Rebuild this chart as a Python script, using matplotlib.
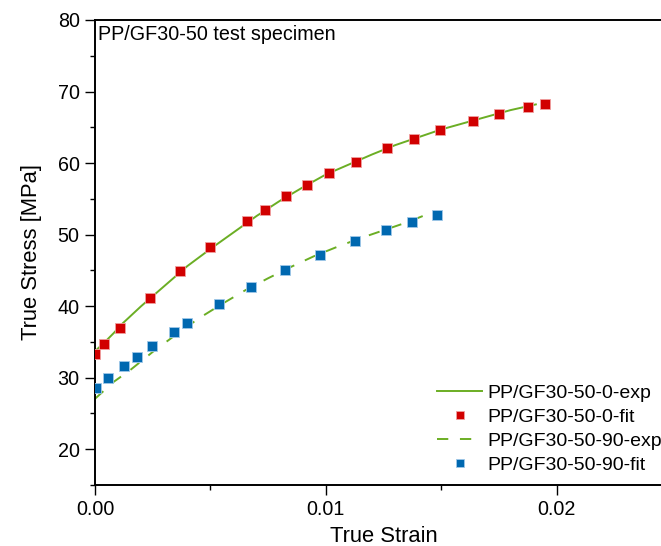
import matplotlib
matplotlib.use("Agg")
import matplotlib.pyplot as plt
from matplotlib.ticker import MultipleLocator

plt.rcParams['font.family'] = ['Liberation Sans', 'DejaVu Sans']

# PP/GF30-50-0 experimental curve
exp0_x = [0.0, 0.0004, 0.0008, 0.0012, 0.002, 0.003, 0.004, 0.005, 0.006, 0.007,
          0.008, 0.009, 0.010, 0.011, 0.012, 0.013, 0.014, 0.015, 0.016, 0.017,
          0.018, 0.0191]
exp0_y = [33.7, 34.9, 36.2, 37.6, 40.0, 42.8, 45.6, 48.0, 50.3, 52.6,
          54.7, 56.6, 58.4, 59.8, 61.2, 62.5, 63.6, 64.7, 65.6, 66.5,
          67.4, 68.2]
# PP/GF30-50-0 fit
fit0_x = [0.0, 0.0004, 0.0011, 0.00237, 0.0037, 0.0050, 0.00659, 0.00735, 0.00828,
          0.0092, 0.01015, 0.01131, 0.01265, 0.01382, 0.01493, 0.01639, 0.0175,
          0.01876, 0.0195]
fit0_y = [33.35, 34.75, 37.0, 41.1, 44.9, 48.3, 51.9, 53.5, 55.4,
          57.0, 58.55, 60.2, 62.04, 63.35, 64.65, 65.9, 66.84,
          67.78, 68.24]
# PP/GF30-50-90 experimental curve
exp90_x = [0.0, 0.0008, 0.0015, 0.0025, 0.0035, 0.0045, 0.0055, 0.0065, 0.0075,
           0.0085, 0.0095, 0.0105, 0.0115, 0.0125, 0.0135, 0.01444]
exp90_y = [27.05, 29.4, 31.0, 33.6, 36.0, 38.3, 40.3, 42.2, 43.9,
           45.5, 47.0, 48.3, 49.5, 50.6, 51.7, 52.9]
# PP/GF30-50-90 fit
fit90_x = [0.00004, 0.00058, 0.00127, 0.00182, 0.00247, 0.00341, 0.0040, 0.00537,
           0.00677, 0.00823, 0.00976, 0.01125, 0.01261, 0.01374, 0.0148]
fit90_y = [28.54, 29.9, 31.57, 32.88, 34.4, 36.43, 37.6, 40.3,
           42.73, 45.0, 47.2, 49.07, 50.6, 51.8, 52.75]

green = '#6BAE24'
red = '#D10000'
blue = '#0068B0'

fig = plt.figure(figsize=(6.61, 5.46), dpi=100)
ax = fig.add_axes([95/661, 1-485/546, 577/661, 465/546])

ax.plot(exp0_x, exp0_y, color=green, lw=1.4, label='PP/GF30-50-0-exp', zorder=2)
ax.plot(fit0_x, fit0_y, ls='none', marker='s', ms=7.5, color=red,
        mec='#F0A0A0', mew=0.6, label='PP/GF30-50-0-fit', zorder=3)
ax.plot(exp90_x, exp90_y, color=green, lw=1.4, dashes=(5.8, 6.0),
        label='PP/GF30-50-90-exp', zorder=2)
ax.plot(fit90_x, fit90_y, ls='none', marker='s', ms=7.5, color=blue,
        mec='#A0C8E8', mew=0.6, label='PP/GF30-50-90-fit', zorder=3)

ax.set_xlim(0, 0.025)
ax.set_ylim(15, 80)
ax.xaxis.set_minor_locator(MultipleLocator(0.005))
ax.yaxis.set_minor_locator(MultipleLocator(5))
ax.set_xticks([0.0, 0.01, 0.02])
ax.set_xticklabels(['0.00', '0.01', '0.02'])
ax.set_yticks([20, 30, 40, 50, 60, 70, 80])

ax.tick_params(which='major', direction='out', length=7, width=1.0, labelsize=14.2,
               top=False, right=False, pad=4)
ax.tick_params(which='minor', direction='out', length=3.6, width=1.0,
               top=False, right=False)
for s in ax.spines.values():
    s.set_linewidth(1.4)

ax.set_xlabel('True Strain', fontsize=15.8, labelpad=5)
ax.set_ylabel('True Stress [MPa]', fontsize=15.8, labelpad=11)

ax.text(0.005, 0.99, 'PP/GF30-50 test specimen', transform=ax.transAxes,
        fontsize=14.2, ha='left', va='top')

fig.legend(loc='upper left', bbox_to_anchor=(437/661, 1-384.5/546), frameon=False,
           fontsize=14, handlelength=2.33, handletextpad=0.27, labelspacing=0.33,
           borderpad=0, borderaxespad=0, markerscale=0.85)

fig.savefig('out.png', dpi=100)
